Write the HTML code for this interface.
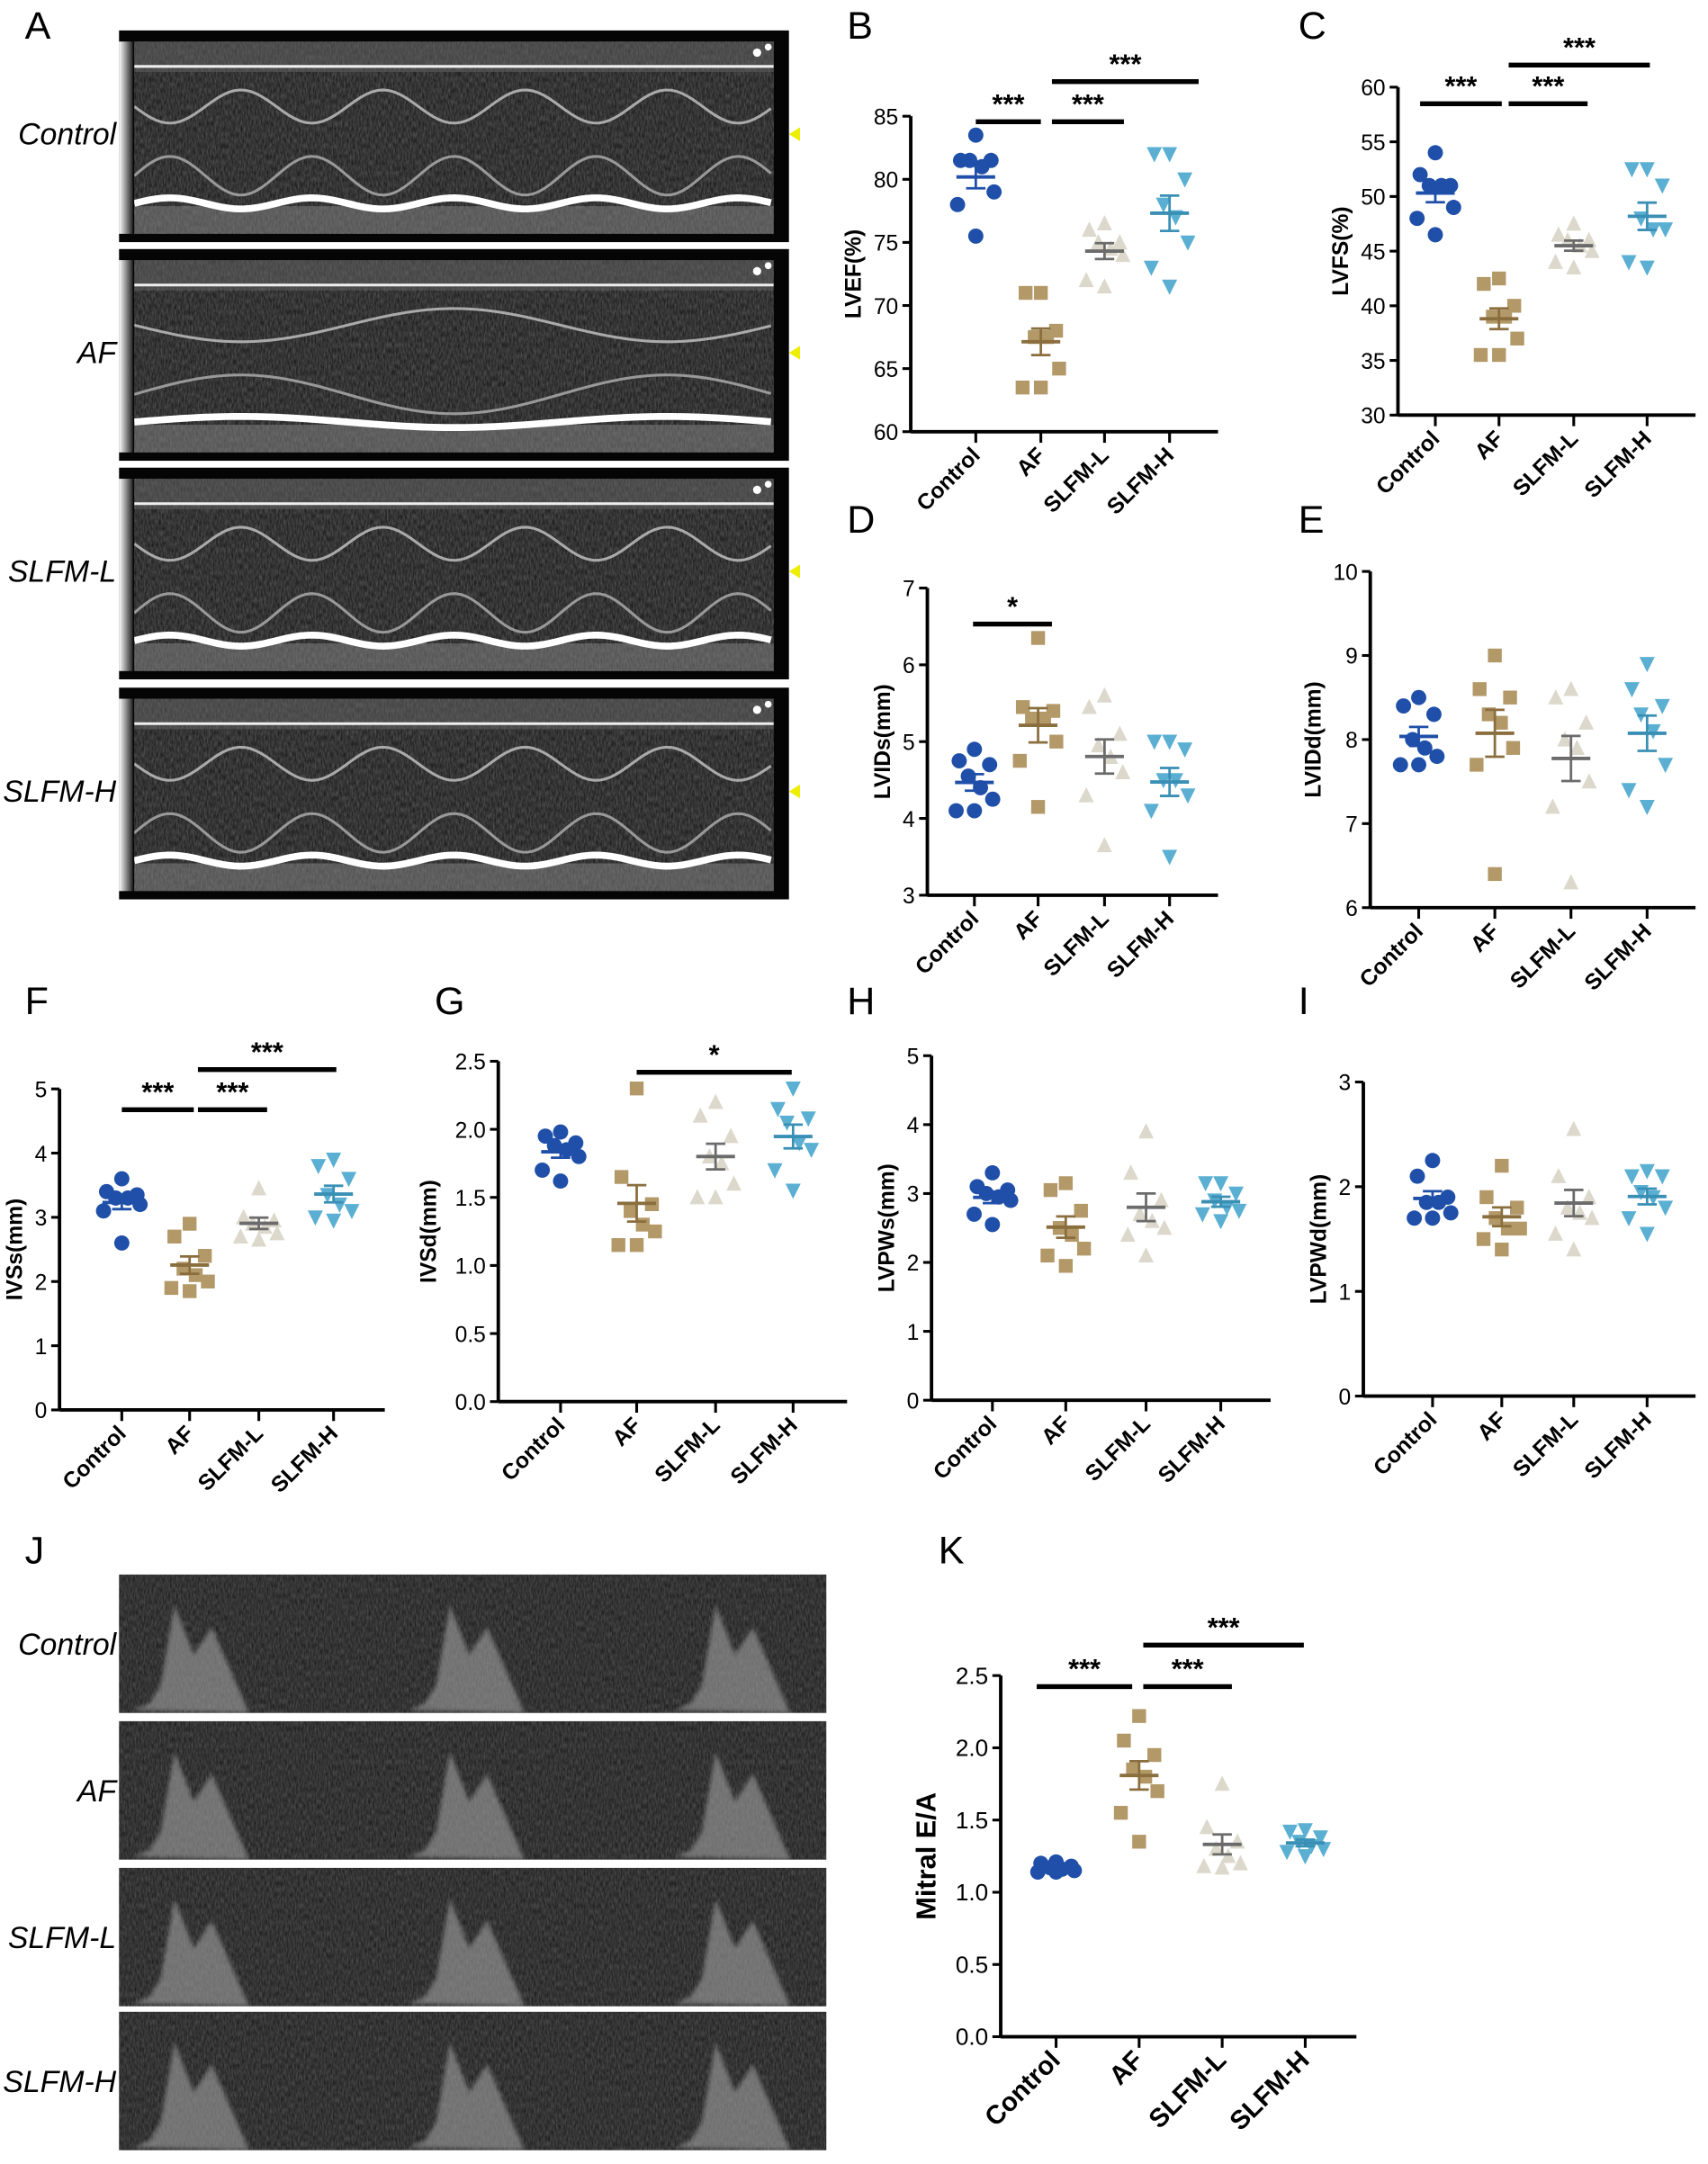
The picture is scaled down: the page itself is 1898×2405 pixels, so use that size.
<!DOCTYPE html>
<html><head><meta charset="utf-8"><style>
html,body{margin:0;padding:0;background:#fff}
svg{display:block}
text{font-family:"Liberation Sans",Arial,sans-serif}
</style></head><body>
<svg id="s" width="1898" height="2405" viewBox="0 0 1234 1564" preserveAspectRatio="none" xmlns="http://www.w3.org/2000/svg">
<defs>
<linearGradient id="lg" x1="0" x2="1"><stop offset="0" stop-color="#fff"/><stop offset="1" stop-color="#222"/></linearGradient>
<filter id="nz" x="0" y="0" width="1" height="1"><feTurbulence type="fractalNoise" baseFrequency="0.9 0.25" numOctaves="2" seed="3"/><feColorMatrix values="0 0 0 0 0.45 0 0 0 0 0.45 0 0 0 0 0.45 0 0 0 1 0"/></filter>
<filter id="bl"><feGaussianBlur stdDeviation="1.5"/></filter>
</defs>
<g id="g"></g>
</svg>
<script>
const g=document.getElementById('g');let h='';
const C={c:'#1f4fa8',a:'#b39868',l:'#ddd8cc',h:'#5aafd2'};
const cd={c:'#1f4fa8',a:'#8a6e3e',l:'#6b6b6b',h:'#3a8fb5'};
function T(x,y,s,t,o){h+=`<text x="${x}" y="${y}" font-size="${s}" ${o||''}>${t}</text>`;}
[['A',18,28],['B',612,28],['C',938,28],['D',612,385],['E',938,385],['F',18,733],['G',314,733],['H',612,733],['I',938,733],['J',18,1130],['K',678,1130]].forEach(p=>T(p[1],p[2],28,p[0]));
const mm=[[22,'Control',0],[180,'AF',1],[338,'SLFM-L',0],[497,'SLFM-H',0]];
mm.forEach((m,i)=>{let y=m[0],H=153;
h+=`<clipPath id="cm${i}"><rect x="97" y="${y+8}" width="462" height="${H-14}"/></clipPath>`;
h+=`<rect x="86" y="${y}" width="484" height="${H}" fill="#050505"/>`;
h+=`<rect x="86" y="${y+8}" width="10" height="${H-14}" fill="url(#lg)"/>`;
h+=`<rect x="97" y="${y+8}" width="462" height="${H-14}" fill="#111" />`;
h+=`<rect x="97" y="${y+8}" width="462" height="${H-14}" filter="url(#nz)" opacity="0.45"/>`;
h+=`<g clip-path="url(#cm${i})">`;
h+=`<rect x="97" y="${y+8}" width="462" height="22" fill="#666" opacity="0.5"/>`;
let p1='',p2='',p3='';const n=m[2]?1.5:4.5;
for(let x=97;x<=559;x+=4){let ph=(x-97)/462*n*2*Math.PI;
let w=Math.sin(ph);p1+=(x==97?'M':'L')+x+','+(y+H-28-4*w);
p2+=(x==97?'M':'L')+x+','+(y+55+12*w);p3+=(x==97?'M':'L')+x+','+(y+H-48-14*w);}
h+=`<rect x="97" y="${y+H-26}" width="462" height="20" fill="#888" opacity="0.5"/>`;
h+=`<path d="${p1}" stroke="#fff" stroke-width="5" fill="none"/>`;
h+=`<path d="${p2}" stroke="#aaa" stroke-width="2" fill="none"/>`;
h+=`<path d="${p3}" stroke="#999" stroke-width="2" fill="none"/>`;
h+=`<line x1="97" x2="559" y1="${y+26}" y2="${y+26}" stroke="#eee" stroke-width="2"/></g>`;
h+=`<circle cx="547" cy="${y+16}" r="3" fill="#fff"/><circle cx="555" cy="${y+12}" r="2.5" fill="#fff"/>`;
h+=`<polygon points="578,${y+70} 570,${y+75} 578,${y+80}" fill="#ee0"/>`;
T(84,y+H/2+6,22,m[1],'font-style="italic" text-anchor="end"');});
const dp=[[1138,'Control'],[1244,'AF'],[1350,'SLFM-L'],[1454,'SLFM-H']];
dp.forEach((d,i)=>{let y=d[0],H=100;
h+=`<clipPath id="cd${i}"><rect x="86" y="${y}" width="511" height="${H}"/></clipPath>`;
h+=`<rect x="86" y="${y}" width="511" height="${H}" fill="#151515"/>`;
h+=`<rect x="86" y="${y}" width="511" height="${H}" filter="url(#nz)" opacity="0.4"/>`;
h+=`<g clip-path="url(#cd${i})">`;
[22,221,413].forEach(o=>{let x=86+o;
h+=`<path d="M${x-12},${y+H-2} L${x},${y+H-7} L${x+8},${y+H-20} L${x+18},${y+22} L${x+32},${y+58} L${x+45},${y+38} L${x+72},${y+H} Z" fill="#a0a0a0" opacity="0.6" filter="url(#bl)"/>`;});
h+=`</g>`;
T(84,y+H/2+8,22,d[1],'font-style="italic" text-anchor="end"');});
const cats=['Control','AF','SLFM-L','SLFM-H'],keys=['c','a','l','h'];
const jit=[0,-10,10,-4,4,12,-12,0];
function mk(k,x,y){if(k=='c')return `<circle cx="${x}" cy="${y}" r="5.5" fill="${C.c}"/>`;
if(k=='a')return `<rect x="${x-5}" y="${y-5}" width="10" height="10" fill="${C.a}"/>`;
if(k=='l')return `<polygon points="${x},${y-6} ${x-5.5},${y+5} ${x+5.5},${y+5}" fill="${C.l}"/>`;
return `<polygon points="${x},${y+6} ${x-5.5},${y-5} ${x+5.5},${y-5}" fill="${C.h}"/>`;}
function P(o){const{x0,yt,yb,vmin,vmax,ticks,xs,d,lab,bars,xe,dec,big}=o;
const Y=v=>yb-(v-vmin)/(vmax-vmin)*(yb-yt);
const cs=big?19:16;
h+=`<line x1="${x0}" x2="${x0}" y1="${yt}" y2="${yb}" stroke="#000" stroke-width="2.5"/>`;
h+=`<line x1="${x0}" x2="${xe}" y1="${yb}" y2="${yb}" stroke="#000" stroke-width="2.5"/>`;
let ml=0;
ticks.forEach(t=>{let y=Y(t);h+=`<line x1="${x0-6}" x2="${x0}" y1="${y}" y2="${y}" stroke="#000" stroke-width="2"/>`;
let s=dec?t.toFixed(1):String(t);ml=Math.max(ml,s.length);
T(x0-9,y+6,big?17:16,s,'text-anchor="end"');});
xs.forEach((x,i)=>{h+=`<line x1="${x}" x2="${x}" y1="${yb}" y2="${yb+8}" stroke="#000" stroke-width="2"/>`;
h+=`<text x="${x+4}" y="${yb+18}" font-size="${cs}" font-weight="bold" text-anchor="end" transform="rotate(-45 ${x+4} ${yb+18})">${cats[i]}</text>`;
let k=keys[i],v=d[i],m=v.reduce((a,b)=>a+b)/v.length,sd=Math.sqrt(v.reduce((a,b)=>a+(b-m)*(b-m),0)/(v.length-1)),se=sd/Math.sqrt(v.length);
v.forEach((val,j)=>{h+=mk(k,x+jit[j]*1.1,Y(val));});
h+=`<line x1="${x-14}" x2="${x+14}" y1="${Y(m)}" y2="${Y(m)}" stroke="${cd[k]}" stroke-width="2.5"/>`;
h+=`<path d="M${x},${Y(m+se)}V${Y(m-se)}M${x-7},${Y(m+se)}h14M${x-7},${Y(m-se)}h14" stroke="${cd[k]}" stroke-width="1.8" fill="none"/>`;});
let lx=x0-18-ml*9-(big?2:0),ly=(yt+yb)/2;
h+=`<text x="${lx}" y="${ly}" font-size="${big?20:16}" font-weight="bold" text-anchor="middle" transform="rotate(-90 ${lx} ${ly})">${lab}</text>`;
(bars||[]).forEach(b=>{h+=`<line x1="${b[0]}" x2="${b[1]}" y1="${b[2]}" y2="${b[2]}" stroke="#000" stroke-width="3.5"/>`;
T((b[0]+b[1])/2,b[2]-6,20,b[3],'text-anchor="middle" font-weight="bold"');});}
P({x0:658,yt:84,yb:312,vmin:60,vmax:85,ticks:[60,65,70,75,80,85],xs:[705,752,798,845],xe:880,lab:'LVEF(%)',
d:[[83.5,81.5,81.5,81.5,81,79,78,75.5],[71,71,68,67.5,67.5,65,63.5,63.5],[76.5,76,75,75,74.5,74,72,71.5],[82,82,80,78,77,75,73,71.5]],
bars:[[705,752,88,'***'],[760,812,88,'***'],[760,866,59,'***']]});
P({x0:1010,yt:63,yb:300,vmin:30,vmax:60,ticks:[30,35,40,45,50,55,60],xs:[1037,1083,1137,1190],xe:1225,lab:'LVFS(%)',
d:[[54,52,51,51,51,49,48,46.5],[42.5,42,40,39,39,37,35.5,35.5],[47.5,46.5,46,46,45.5,45,44,43.5],[52.5,52.5,51,48,47,47,44,43.5]],
bars:[[1026,1085,75,'***'],[1090,1147,75,'***'],[1090,1192,47,'***']]});
P({x0:670,yt:425,yb:647,vmin:3,vmax:7,ticks:[3,4,5,6,7],xs:[704,750,798,845],xe:880,lab:'LVIDs(mm)',
d:[[4.9,4.75,4.7,4.55,4.4,4.25,4.1,4.1],[6.35,5.45,5.4,5.3,5.3,5.0,4.75,4.15],[5.6,5.45,5.1,4.95,4.8,4.6,4.3,3.65],[5.0,5.0,4.9,4.5,4.5,4.3,4.1,3.5]],
bars:[[703,760,451,'*']]});
P({x0:990,yt:413,yb:656,vmin:6,vmax:10,ticks:[6,7,8,9,10],xs:[1025,1080,1135,1190],xe:1225,lab:'LVIDd(mm)',
d:[[8.5,8.4,8.3,8.0,7.9,7.8,7.7,7.7],[9.0,8.6,8.5,8.3,8.2,7.9,7.7,6.4],[8.6,8.5,8.2,8.0,7.9,7.5,7.2,6.3],[8.9,8.6,8.4,8.3,8.1,7.7,7.4,7.2]]});
P({x0:43,yt:787,yb:1019,vmin:0,vmax:5,ticks:[0,1,2,3,4,5],xs:[88,137,187,241],xe:278,lab:'IVSs(mm)',
d:[[3.6,3.4,3.35,3.3,3.3,3.2,3.1,2.6],[2.9,2.7,2.4,2.2,2.1,2.0,1.9,1.85],[3.45,3.0,2.95,2.9,2.85,2.75,2.7,2.65],[3.9,3.8,3.6,3.35,3.2,3.1,3.0,2.95]],
bars:[[88,140,802,'***'],[143,193,802,'***'],[143,243,773,'***']]});
P({x0:360,yt:767,yb:1013,vmin:0,vmax:2.5,ticks:[0,0.5,1,1.5,2,2.5],dec:1,xs:[405,460,517,573],xe:612,lab:'IVSd(mm)',
d:[[1.98,1.95,1.9,1.88,1.85,1.8,1.7,1.62],[2.3,1.65,1.45,1.4,1.3,1.25,1.15,1.15],[2.2,2.1,1.95,1.8,1.75,1.6,1.5,1.5],[2.3,2.15,2.08,2.05,1.9,1.85,1.7,1.55]],
bars:[[460,572,775,'*']]});
P({x0:673,yt:763,yb:1012,vmin:0,vmax:5,ticks:[0,1,2,3,4,5],xs:[717,770,828,882],xe:918,lab:'LVPWs(mm)',
d:[[3.3,3.1,3.05,3.0,2.95,2.9,2.7,2.55],[3.15,3.05,2.75,2.5,2.4,2.2,2.1,1.95],[3.9,3.3,2.9,2.7,2.6,2.5,2.4,2.1],[3.15,3.15,3.0,2.9,2.8,2.75,2.7,2.6]]});
P({x0:985,yt:782,yb:1009,vmin:0,vmax:3,ticks:[0,1,2,3],xs:[1035,1085,1137,1190],xe:1225,lab:'LVPWd(mm)',
d:[[2.25,2.1,1.9,1.85,1.85,1.75,1.7,1.7],[2.2,1.9,1.8,1.7,1.6,1.6,1.5,1.4],[2.55,2.1,1.9,1.8,1.75,1.7,1.55,1.4],[2.15,2.1,2.1,1.95,1.9,1.8,1.7,1.55]]});
P({x0:723,yt:1211,yb:1472,vmin:0,vmax:2.5,ticks:[0,0.5,1,1.5,2,2.5],dec:1,big:1,xs:[763,823,883,943],xe:980,lab:'Mitral E/A',
d:[[1.21,1.2,1.18,1.17,1.16,1.15,1.14,1.14],[2.22,2.05,1.95,1.85,1.8,1.7,1.55,1.35],[1.75,1.45,1.35,1.3,1.25,1.2,1.18,1.17],[1.43,1.42,1.38,1.35,1.32,1.3,1.28,1.25]],
bars:[[749,818,1219,'***'],[826,890,1219,'***'],[826,942,1189,'***']]});
g.innerHTML=h;
</script>
</body></html>
